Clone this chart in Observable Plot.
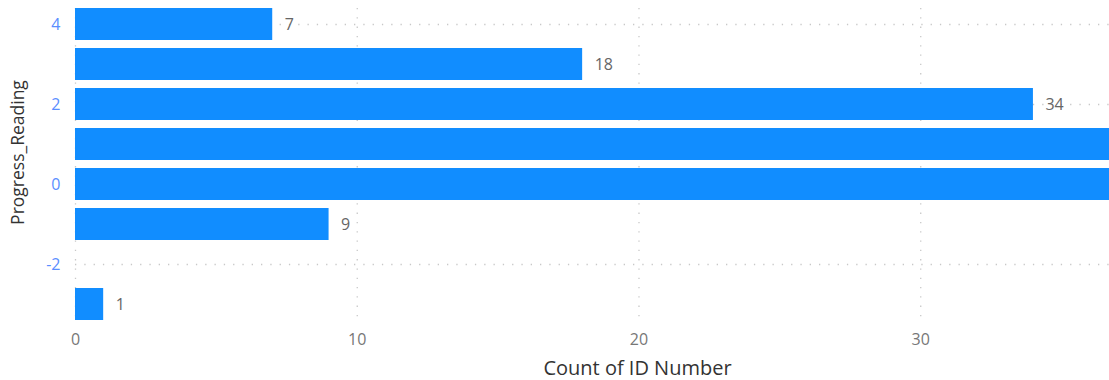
<!DOCTYPE html>
<html>
<head>
<meta charset="utf-8">
<script src="https://cdn.jsdelivr.net/npm/d3@7"></script>
<script src="https://cdn.jsdelivr.net/npm/@observablehq/plot@0.6"></script>
<style>
  html, body { margin: 0; padding: 0; background: #fff; }
  #chart svg { display: block; }
</style>
</head>
<body>
<div id="chart"></div>
<script>
const categories = [4, 3, 2, 1, 0, -1, -3];
const counts = [7, 18, 34, 45, 42, 9, 1];
const yTicks = [4, 2, 0, -2];
const xTicks = [0, 10, 20, 30];
const xMax = 36.7;

const data = categories.map((c, i) => ({ reading: c, count: counts[i] }));

const gridStyle = { stroke: "#c8c8c8", strokeWidth: 1.3, strokeDasharray: "1.3,8", strokeOpacity: 1 };

const chart = Plot.plot({
  width: 1109,
  height: 380,
  marginLeft: 75,
  marginRight: 0,
  marginTop: 8,
  marginBottom: 60,
  style: { fontFamily: "'Open Sans', sans-serif", background: "#fff" },
  x: { domain: [0, xMax] },
  y: { domain: [-3.4, 4.4] },
  marks: [
    Plot.gridX(xTicks, { ...gridStyle }),
    Plot.gridY(yTicks, { ...gridStyle }),
    Plot.rectX(data, {
      x1: 0,
      x2: "count",
      y1: d => d.reading - 0.4,
      y2: d => d.reading + 0.4,
      fill: "#118DFF",
      clip: true
    }),
    Plot.text(data.filter(d => d.count <= xMax - 1.5), {
      x: "count",
      y: "reading",
      text: d => String(d.count),
      dx: 12,
      textAnchor: "start",
      fill: "#666",
      fontSize: 16
    }),
    Plot.axisX(xTicks, {
      tickSize: 0,
      tickPadding: 13,
      fontSize: 16,
      color: "#777",
      label: null
    }),
    Plot.axisY(yTicks, {
      tickSize: 0,
      tickPadding: 15,
      fontSize: 16,
      color: "#5A8EFF",
      tickFormat: d => String(d),
      label: null
    }),
    Plot.text(["Count of ID Number"], {
      frameAnchor: "bottom",
      dy: 54,
      dx: 45,
      fontSize: 20,
      fill: "#333"
    }),
    Plot.text(["Progress_Reading"], {
      frameAnchor: "left",
      textAnchor: "middle",
      dx: -57,
      dy: -12,
      rotate: -90,
      fontSize: 17.5,
      fill: "#333"
    })
  ]
});

document.getElementById("chart").appendChild(chart);
</script>
</body>
</html>
